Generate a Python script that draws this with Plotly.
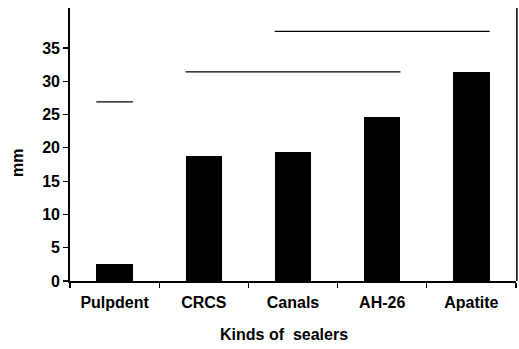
import plotly.graph_objects as go

categories = ["Pulpdent", "CRCS", "Canals", "AH-26", "Apatite"]
values = [2.5, 18.7, 19.4, 24.7, 31.4]
y_ticks = [0, 5, 10, 15, 20, 25, 30, 35]

# significance bars: first group, last group, height
sig_start = ["Pulpdent", "CRCS", "Canals"]
sig_end = ["Pulpdent", "AH-26", "Apatite"]
sig_y = [26.9, 31.4, 37.5]

BAR_W = 0.41
FAM = "Liberation Sans, Arial, sans-serif"

fig = go.Figure()
fig.add_trace(go.Bar(x=categories, y=values, width=BAR_W,
                     marker=dict(color="black", line=dict(width=0)),
                     showlegend=False))

for s, e, y in zip(sig_start, sig_end, sig_y):
    i0 = categories.index(s)
    i1 = categories.index(e)
    fig.add_trace(go.Scatter(x=[i0 - BAR_W / 2, i1 + BAR_W / 2], y=[y, y],
                             xaxis="x2", mode="lines",
                             line=dict(color="black", width=1.3),
                             showlegend=False, hoverinfo="skip"))

fig.update_layout(
    width=519, height=349,
    margin=dict(l=70, r=3, t=8, b=68, autoexpand=False),
    paper_bgcolor="white", plot_bgcolor="white",
    font=dict(family=FAM, size=16, color="black"),
    bargap=0,
    xaxis=dict(type="category", tickson="boundaries", ticks="outside",
               ticklen=5, tickwidth=1.2, tickcolor="black",
               ticklabelstandoff=6,
               showline=True, linecolor="black", linewidth=1.5,
               showgrid=False, zeroline=False,
               tickfont=dict(family=FAM, size=16, color="black", weight="bold"),
               range=[-0.5, 4.5]),
    xaxis2=dict(overlaying="x", range=[-0.5, 4.5], visible=False),
    yaxis=dict(range=[0, 41], tickvals=y_ticks, ticks="outside",
               ticklen=5, tickwidth=1.2, tickcolor="black",
               showline=True, linecolor="black", linewidth=1.8,
               showgrid=False, zeroline=False,
               tickfont=dict(family=FAM, size=16, color="black", weight="bold")),
    shapes=[dict(type="line", xref="paper", yref="paper", x0=1.002, x1=1.002,
                 y0=0, y1=1, layer="above",
                 line=dict(color="black", width=1.5))],
    annotations=[
        dict(text="<b>Kinds of  sealers</b>", xref="paper", yref="paper",
             x=0.479, y=-0.196, showarrow=False, xanchor="center", yanchor="middle",
             font=dict(family=FAM, size=16, color="black")),
        dict(text="<b>mm</b>", xref="paper", yref="paper", textangle=-90,
             x=-0.119, y=0.432, showarrow=False, xanchor="center", yanchor="middle",
             font=dict(family=FAM, size=16, color="black")),
    ],
)

fig.write_html("out.html",
               config={"displayModeBar": False, "staticPlot": True},
               post_script="document.body.style.margin='0';document.body.style.overflow='hidden';")
